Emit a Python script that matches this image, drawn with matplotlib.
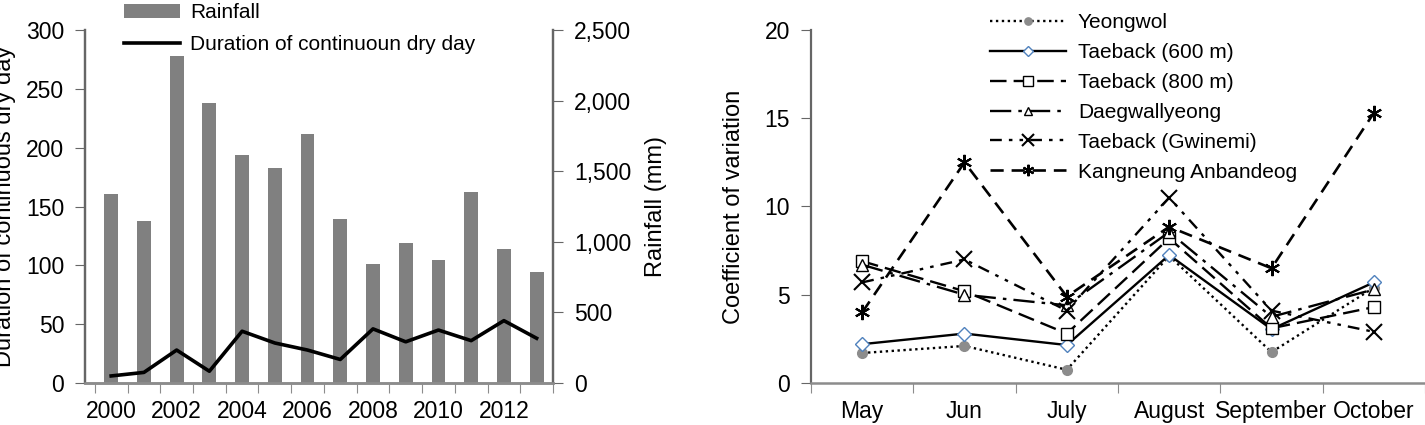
import numpy as np
import matplotlib.pyplot as plt

plt.rcParams['font.family'] = ['Liberation Sans', 'DejaVu Sans']
plt.rcParams['font.size'] = 15

# left panel data
years = [2000, 2001, 2002, 2003, 2004, 2005, 2006, 2007, 2008, 2009, 2010, 2011, 2012, 2013]
rainfall = [1340, 1150, 2318, 1980, 1612, 1524, 1765, 1165, 846, 992, 874, 1354, 948, 787]
dry_days = [6, 9, 28, 10, 44, 34, 28, 20, 46, 35, 45, 36, 53, 38]

# right panel data
months = ['May', 'Jun', 'July', 'August', 'September', 'October']
yeongwol = [1.7, 2.1, 0.75, 7.2, 1.75, 5.4]
taeback600 = [2.2, 2.8, 2.15, 7.25, 3.05, 5.7]
taeback800 = [6.9, 5.2, 2.8, 8.2, 3.1, 4.3]
daegwallyeong = [6.7, 5.0, 4.4, 8.55, 3.75, 5.3]
gwinemi = [5.7, 7.0, 4.1, 10.5, 4.1, 2.9]
kangneung = [4.0, 12.5, 4.9, 8.85, 6.5, 15.3]

grey = '#8c8c8c'
spine_c = '#666666'
tick_font = dict(family=['Liberation Sans Narrow', 'Liberation Sans', 'DejaVu Sans'], size=16.5)

fig = plt.figure(figsize=(14.25, 4.25), dpi=100)

# ---- left: rainfall bars + dry day line
ax1 = fig.add_axes([85/1425, 42/425, (553-85)/1425, 353/425])
ax2 = ax1.twinx()
ax1.set_zorder(2)
ax1.patch.set_visible(False)

x = np.arange(len(years))
ax2.bar(x, rainfall, width=0.42, color='#808080', label='Rainfall')
ax1.plot(x, dry_days, color='black', lw=2.6, label='Duration of continuoun dry day')

ax1.set_ylim(0, 300)
ax2.set_ylim(0, 2500)
ax1.set_xlim(-0.8, 13.5)
ax1.set_yticks(np.arange(0, 301, 50))
ax2.set_yticks(np.arange(0, 2501, 500))
ax2.set_yticklabels([f'{v:,}' for v in range(0, 2501, 500)])
ax1.set_xticks(np.arange(-0.5, 14, 1))
ax1.set_xticklabels([])
ax1.set_xticks(x[::2], [str(y) for y in years[::2]], minor=True)
ax1.tick_params(axis='x', which='minor', length=0, pad=12)
ax1.tick_params(axis='x', which='major', length=7, color=grey, direction='out')
ax1.tick_params(axis='y', length=7, color=spine_c, direction='out', pad=8)
ax2.tick_params(axis='y', length=7, color=spine_c, direction='out', pad=8)
for lab in ax1.get_xticklabels(minor=True) + ax1.get_yticklabels() + ax2.get_yticklabels():
    lab.set_fontproperties(tick_font)

for a in (ax1, ax2):
    a.spines['top'].set_visible(False)
    a.spines['bottom'].set_color(grey)
    a.spines['bottom'].set_linewidth(1.8)
    for s in ('left', 'right'):
        a.spines[s].set_color(spine_c)
        a.spines[s].set_linewidth(1.6)

ax1.set_ylabel('Duration of continuous dry day', fontsize=17)
ax1.yaxis.set_label_coords(-0.148, 0.5)
ax2.set_ylabel('Rainfall (mm)', fontsize=17)
ax2.yaxis.set_label_coords(1.197, 0.5)

h2, l2 = ax2.get_legend_handles_labels()
h1, l1 = ax1.get_legend_handles_labels()
ax1.legend(h2 + h1, l2 + l1, loc='upper left', bbox_to_anchor=(116/1425, 1 + 5/425),
           bbox_transform=fig.transFigure, frameon=False, handlelength=2.65,
           labelspacing=0.62, handletextpad=0.5, borderaxespad=0)

# ---- right: coefficient of variation
ax3 = fig.add_axes([811/1425, 42/425, (1425-811)/1425, 353/425])
m = np.arange(len(months))
ax3.plot(m, yeongwol, color='black', ls=(0, (1, 1.5)), lw=1.7, marker='o', ms=7,
         mfc=grey, mec=grey, label='Yeongwol')
ax3.plot(m, taeback600, color='black', ls='-', lw=1.7, marker='D', ms=7,
         mfc='white', mec='#4f81bd', label='Taeback (600 m)')
ax3.plot(m, taeback800, color='black', ls=(0, (7, 3)), lw=1.7, marker='s', ms=9,
         mfc='white', mec='black', label='Taeback (800 m)')
ax3.plot(m, daegwallyeong, color='black', ls=(0, (9, 3, 1.5, 3)), lw=1.7, marker='^', ms=8,
         mfc='white', mec='black', label='Daegwallyeong')
ax3.plot(m, gwinemi, color='black', ls=(0, (5, 3, 1.5, 3, 1.5, 3)), lw=1.7, marker='x', ms=11,
         mew=1.5, label='Taeback (Gwinemi)')
ax3.plot(m, kangneung, color='black', ls=(0, (5, 3)), lw=1.9, marker=(6, 2, 0), ms=11,
         mew=1.5, label='Kangneung Anbandeog')

ax3.set_ylim(0, 20)
ax3.set_xlim(-0.5, 5.5)
ax3.set_yticks(np.arange(0, 21, 5))
ax3.set_xticks(np.arange(-0.5, 6, 1))
ax3.set_xticklabels([])
ax3.set_xticks(m, months, minor=True)
ax3.tick_params(axis='x', which='minor', length=0, pad=12)
ax3.tick_params(axis='x', which='major', length=7, color=grey, direction='out')
ax3.tick_params(axis='y', length=7, color=spine_c, direction='out', pad=8)
for lab in ax3.get_xticklabels(minor=True) + ax3.get_yticklabels():
    lab.set_fontproperties(tick_font)
for s in ('top', 'right'):
    ax3.spines[s].set_visible(False)
ax3.spines['left'].set_color(spine_c)
ax3.spines['left'].set_linewidth(1.6)
ax3.spines['bottom'].set_color(grey)
ax3.spines['bottom'].set_linewidth(1.8)
ax3.set_ylabel('Coefficient of variation', fontsize=17)
ax3.yaxis.set_label_coords(-0.108, 0.5)

ax3.legend(loc='upper left', bbox_to_anchor=(982/1425, 1 - 5/425),
           bbox_transform=fig.transFigure, frameon=False, handlelength=3.65,
           labelspacing=0.52, handletextpad=0.55, borderaxespad=0, markerscale=0.75)

fig.savefig('out.png', dpi=100)
